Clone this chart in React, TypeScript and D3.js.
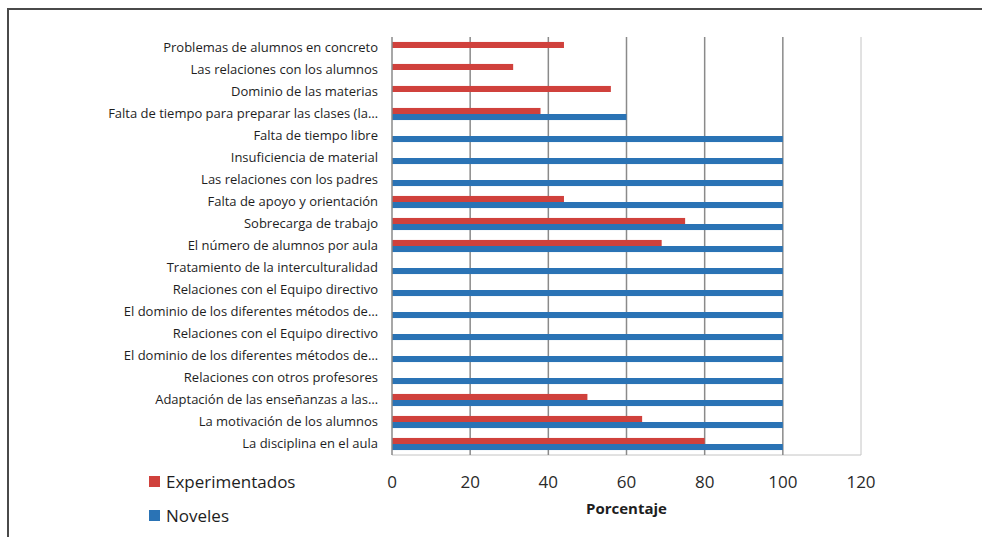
import React from "react";
import * as d3 from "d3";

const categories = [
  "Problemas de alumnos en concreto",
  "Las relaciones con los alumnos",
  "Dominio de las materias",
  "Falta de tiempo para preparar las clases (la…",
  "Falta de tiempo libre",
  "Insuficiencia de material",
  "Las relaciones con los padres",
  "Falta de apoyo y orientación",
  "Sobrecarga de trabajo",
  "El número de alumnos por aula",
  "Tratamiento de la interculturalidad",
  "Relaciones con el Equipo directivo",
  "El dominio de los diferentes métodos de…",
  "Relaciones con el Equipo directivo",
  "El dominio de los diferentes métodos de…",
  "Relaciones con otros profesores",
  "Adaptación de las enseñanzas a las…",
  "La motivación de los alumnos",
  "La disciplina en el aula",
];

const experimentados = [44, 31, 56, 38, 0, 0, 0, 44, 75, 69, 0, 0, 0, 0, 0, 0, 50, 64, 80];
const noveles = [0, 0, 0, 60, 100, 100, 100, 100, 100, 100, 100, 100, 100, 100, 100, 100, 100, 100, 100];

const seriesNames = ["Experimentados", "Noveles"];
const seriesColors = ["#d0413c", "#2a73b5"];
const xTicks = [0, 20, 40, 60, 80, 100, 120];
const xLabel = "Porcentaje";

export default function App() {
  const W = 982;
  const H = 537;
  const left = 392;
  const right = 861;
  const top = 37;
  const bottom = 455;

  const x = d3.scaleLinear().domain([0, 120]).range([left, right]);
  const idx = categories.map((_, i) => String(i));
  const y = d3.scaleBand().domain(idx).range([top, bottom]).paddingInner(0.45).paddingOuter(0.225);
  const sub = d3.scaleBand().domain(seriesNames).range([0, y.bandwidth()]);

  const seriesData = [experimentados, noveles];
  const font = "'Open Sans', 'Liberation Sans', sans-serif";

  return (
    <svg width={W} height={H} style={{ position: "absolute", left: 0, top: 0, background: "#fff" }}>
      <rect x={0} y={0} width={W} height={H} fill="#ffffff" />
      {/* outer frame */}
      <line x1={7} x2={W} y1={9} y2={9} stroke="#4a4a4a" strokeWidth={2} />
      <line x1={8} x2={8} y1={8} y2={H} stroke="#4a4a4a" strokeWidth={2} />

      {/* plot border */}
      <line x1={right} x2={right} y1={top} y2={bottom} stroke="#c4c4c4" strokeWidth={1} />
      <line x1={left} x2={right} y1={bottom} y2={bottom} stroke="#c4c4c4" strokeWidth={1} />

      {/* gridlines */}
      {xTicks.filter((t) => t > 0 && t < 120).map((t) => (
        <line key={t} x1={x(t)} x2={x(t)} y1={top} y2={bottom} stroke="#8a8a8a" strokeWidth={1.5} />
      ))}

      {/* bars */}
      {seriesData.map((vals, s) => (
        <g key={s}>
          {vals.map((v, i) => (
            v > 0 ? (
              <rect
                key={i}
                x={x(0)}
                y={(y(String(i)) as number) + (sub(seriesNames[s]) as number)}
                width={x(v) - x(0)}
                height={sub.bandwidth()}
                fill={seriesColors[s]}
              />
            ) : null
          ))}
        </g>
      ))}

      {/* left axis line */}
      <line x1={left} x2={left} y1={top} y2={bottom} stroke="#8a8a8a" strokeWidth={1.5} />

      {/* category labels */}
      {categories.map((c, i) => (
        <text
          key={i}
          x={378}
          y={(y(String(i)) as number) + y.bandwidth() / 2 - 1}
          textAnchor="end"
          dominantBaseline="central"
          fontFamily={font}
          fontSize={13}
          fill="#1e1e1e"
        >
          {c}
        </text>
      ))}

      {/* x tick labels */}
      {xTicks.map((t) => (
        <text
          key={t}
          x={x(t)}
          y={481}
          textAnchor="middle"
          dominantBaseline="central"
          fontFamily={font}
          fontSize={17}
          fill="#2a2a2a"
        >
          {t}
        </text>
      ))}

      <text
        x={(x(0) + x(120)) / 2}
        y={508}
        textAnchor="middle"
        dominantBaseline="central"
        fontFamily={font}
        fontSize={15}
        fontWeight="bold"
        fill="#1e1e1e"
      >
        {xLabel}
      </text>

      {/* legend */}
      {seriesNames.map((n, s) => (
        <g key={n} transform={`translate(149, ${481 + s * 34})`}>
          <rect x={0} y={-5} width={11} height={11} fill={seriesColors[s]} />
          <text x={17} y={0} dominantBaseline="central" fontFamily={font} fontSize={17} fill="#1e1e1e">
            {n}
          </text>
        </g>
      ))}
    </svg>
  );
}
